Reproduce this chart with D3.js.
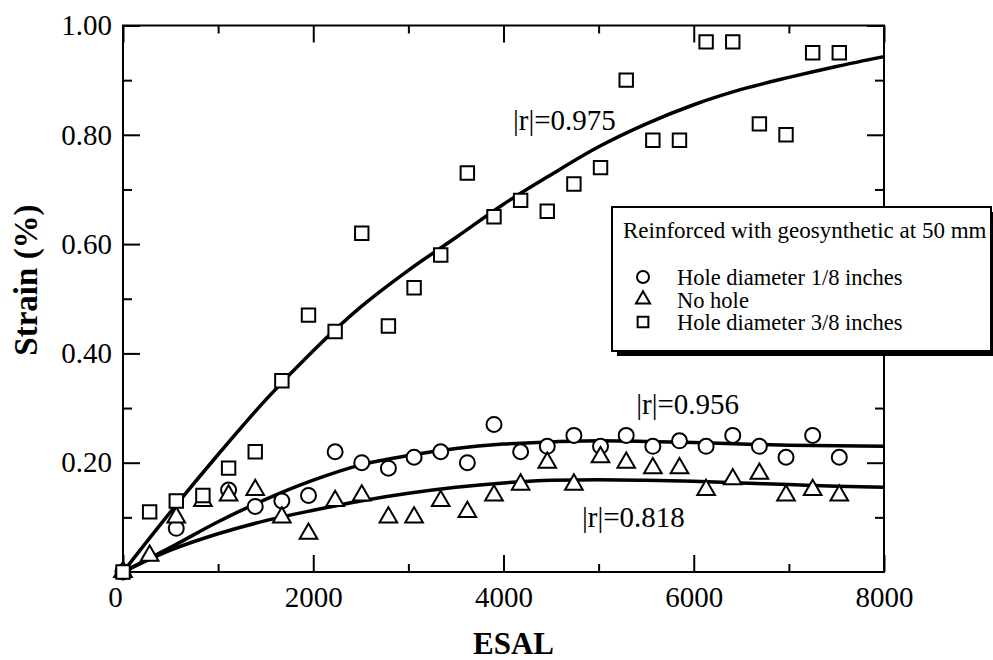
<!DOCTYPE html>
<html>
<head>
<meta charset="utf-8">
<script src="https://cdn.jsdelivr.net/npm/d3@7"></script>
<style>
  body { margin: 0; background: #fff; }
  svg, svg text { font-family: "Liberation Serif", "Times New Roman", serif; }
</style>
</head>
<body>
<svg id="chart" width="993" height="660"></svg>
<script>
// ESAL values shared by all three series
const esal = [0, 280, 560, 840, 1110, 1390, 1670, 1950, 2230, 2510, 2790, 3060, 3340, 3620,
  3900, 4180, 4460, 4740, 5020, 5290, 5570, 5850, 6130, 6410, 6690, 6970, 7250, 7530];

// strain (%) per series, null = no visible point
const holeSmall = [0, null, 0.08, null, 0.15, 0.12, 0.13, 0.14, 0.22, 0.20, 0.19, 0.21, 0.22, 0.20,
  0.27, 0.22, 0.23, 0.25, 0.23, 0.25, 0.23, 0.24, 0.23, 0.25, 0.23, 0.21, 0.25, 0.21];
const noHole = [0, 0.03, 0.10, 0.13, 0.14, 0.15, 0.10, 0.07, 0.13, 0.14, 0.10, 0.10, 0.13, 0.11,
  0.14, 0.16, 0.20, 0.16, 0.21, 0.20, 0.19, 0.19, 0.15, 0.17, 0.18, 0.14, 0.15, 0.14];
const holeLarge = [0, 0.11, 0.13, 0.14, 0.19, 0.22, 0.35, 0.47, 0.44, 0.62, 0.45, 0.52, 0.58, 0.73,
  0.65, 0.68, 0.66, 0.71, 0.74, 0.90, 0.79, 0.79, 0.97, 0.97, 0.82, 0.80, 0.95, 0.95];

// fitted curves
const fitX = [0, 500, 1000, 1500, 2000, 2500, 3000, 3500, 4000, 4500, 5000, 5500, 6000, 6500, 7000, 7500, 8000];
const fitSmall = [0, 0.045, 0.092, 0.133, 0.168, 0.196, 0.213, 0.226, 0.234, 0.238, 0.240, 0.239, 0.237, 0.234, 0.232, 0.231, 0.230];
const fitNone = [0, 0.040, 0.070, 0.094, 0.113, 0.130, 0.144, 0.155, 0.163, 0.168, 0.169, 0.168, 0.166, 0.163, 0.160, 0.157, 0.155];
const fitLarge = [0, 0.110, 0.215, 0.315, 0.405, 0.485, 0.552, 0.612, 0.673, 0.727, 0.778, 0.820, 0.855, 0.883, 0.905, 0.925, 0.943];

const rLabels = [
  { text: '|r|=0.975', x: 4100, y: 0.808 },
  { text: '|r|=0.956', x: 5395, y: 0.289 },
  { text: '|r|=0.818', x: 4825, y: 0.083 }
];

const xMajor = [0, 2000, 4000, 6000, 8000];
const xMinor = [1000, 3000, 5000, 7000];
const yMajor = [0.2, 0.4, 0.6, 0.8, 1.0];
const yMinor = [0.1, 0.3, 0.5, 0.7, 0.9];

const legendTitle = 'Reinforced with geosynthetic at 50 mm';
const legendItems = [
  { label: 'Hole diameter 1/8 inches', shape: 'circle' },
  { label: 'No hole', shape: 'triangle' },
  { label: 'Hole diameter 3/8 inches', shape: 'square' }
];

const margin = { top: 25.5, right: 109, bottom: 88, left: 123 };
const width = 993 - margin.left - margin.right;
const height = 660 - margin.top - margin.bottom;

const svg = d3.select('#chart');
const g = svg.append('g').attr('transform', `translate(${margin.left},${margin.top})`);

const x = d3.scaleLinear().domain([0, 8000]).range([0, width]);
const y = d3.scaleLinear().domain([0, 1]).range([height, 0]);

// axes: major + minor, ticks pointing inward on all four sides
function addAxis(axis, transform) {
  const a = g.append('g').attr('transform', transform || null).call(axis);
  a.attr('font-family', null);
  a.select('.domain').remove();
  a.selectAll('line').attr('stroke', '#000').attr('stroke-width', 2);
  return a;
}

const bottom = addAxis(d3.axisBottom(x).tickValues(xMajor).tickSizeInner(-17).tickSizeOuter(0)
  .tickPadding(14).tickFormat(d3.format('d')), `translate(0,${height})`);
bottom.selectAll('text').attr('font-size', 29).attr('fill', '#000')
  .attr('dx', d => d === 0 ? -8 : 0);
addAxis(d3.axisBottom(x).tickValues(xMinor).tickSizeInner(-8).tickSizeOuter(0).tickFormat(''), `translate(0,${height})`);
addAxis(d3.axisTop(x).tickValues(xMajor).tickSizeInner(-17).tickSizeOuter(0).tickFormat(''));
addAxis(d3.axisTop(x).tickValues(xMinor).tickSizeInner(-8).tickSizeOuter(0).tickFormat(''));

const left = addAxis(d3.axisLeft(y).tickValues(yMajor).tickSizeInner(-17).tickSizeOuter(0)
  .tickPadding(11).tickFormat(d3.format('.2f')));
left.selectAll('text').attr('font-size', 29).attr('fill', '#000');
addAxis(d3.axisLeft(y).tickValues(yMinor).tickSizeInner(-9).tickSizeOuter(0).tickFormat(''));
addAxis(d3.axisRight(y).tickValues(yMajor).tickSizeInner(-17).tickSizeOuter(0).tickFormat(''), `translate(${width},0)`);
addAxis(d3.axisRight(y).tickValues(yMinor).tickSizeInner(-9).tickSizeOuter(0).tickFormat(''), `translate(${width},0)`);

g.append('rect')
  .attr('width', width).attr('height', height)
  .attr('fill', 'none').attr('stroke', '#000').attr('stroke-width', 2);

// axis titles
svg.append('text')
  .attr('x', margin.left + width / 2 + 10).attr('y', 654)
  .attr('text-anchor', 'middle').attr('font-size', 31).attr('font-weight', 'bold')
  .text('ESAL');
svg.append('text')
  .attr('transform', 'translate(37,280) rotate(-90)')
  .attr('text-anchor', 'middle').attr('font-size', 33).attr('font-weight', 'bold')
  .text('Strain (%)');

// fitted curves
const line = d3.line()
  .x(d => x(d[0])).y(d => y(d[1]))
  .curve(d3.curveMonotoneX);

[fitSmall, fitNone, fitLarge].forEach(fit => {
  g.append('path')
    .datum(fitX.map((v, i) => [v, fit[i]]))
    .attr('d', line)
    .attr('fill', 'none').attr('stroke', '#000').attr('stroke-width', 3.5);
});

// markers
function drawMarker(sel, shape, size) {
  if (shape === 'circle') {
    sel.append('circle').attr('r', size / 2);
  } else if (shape === 'triangle') {
    sel.append('path').attr('d', d3.symbol(d3.symbolTriangle, size * size * 0.6)());
  } else {
    sel.append('path').attr('d', d3.symbol(d3.symbolSquare, size * size * 0.8)());
  }
  sel.selectAll('circle, path').attr('fill', '#fff').attr('stroke', '#000').attr('stroke-width', 2);
}

const series = [
  { values: holeSmall, shape: 'circle' },
  { values: noHole, shape: 'triangle' },
  { values: holeLarge, shape: 'square' }
];

series.forEach(s => {
  const pts = esal.map((v, i) => [v, s.values[i]]).filter(d => d[1] !== null);
  g.append('g').selectAll('g')
    .data(pts)
    .join('g')
    .attr('transform', d => `translate(${x(d[0])},${y(d[1])})`)
    .each(function () { drawMarker(d3.select(this), s.shape, 15); });
});

// correlation labels
g.selectAll('.rlabel')
  .data(rLabels)
  .join('text')
  .attr('class', 'rlabel')
  .attr('x', d => x(d.x)).attr('y', d => y(d.y))
  .attr('font-size', 29)
  .text(d => d.text);

// legend box with drop shadow
const legend = svg.append('g').attr('transform', 'translate(612,207)');
legend.append('rect').attr('x', 5).attr('y', 5).attr('width', 379).attr('height', 144).attr('fill', '#000');
legend.append('rect').attr('width', 379).attr('height', 144)
  .attr('fill', '#fff').attr('stroke', '#000').attr('stroke-width', 2);
legend.append('text').attr('x', 11).attr('y', 31).attr('font-size', 23).text(legendTitle);

const items = legend.selectAll('.item')
  .data(legendItems)
  .join('g')
  .attr('class', 'item')
  .attr('transform', (d, i) => `translate(0,${78 + i * 22.5})`);
items.append('g')
  .attr('transform', 'translate(31,-8)')
  .each(function (d) { drawMarker(d3.select(this), d.shape, 12); });
items.append('text').attr('x', 65).attr('font-size', 22.5).text(d => d.label);
</script>
</body>
</html>
